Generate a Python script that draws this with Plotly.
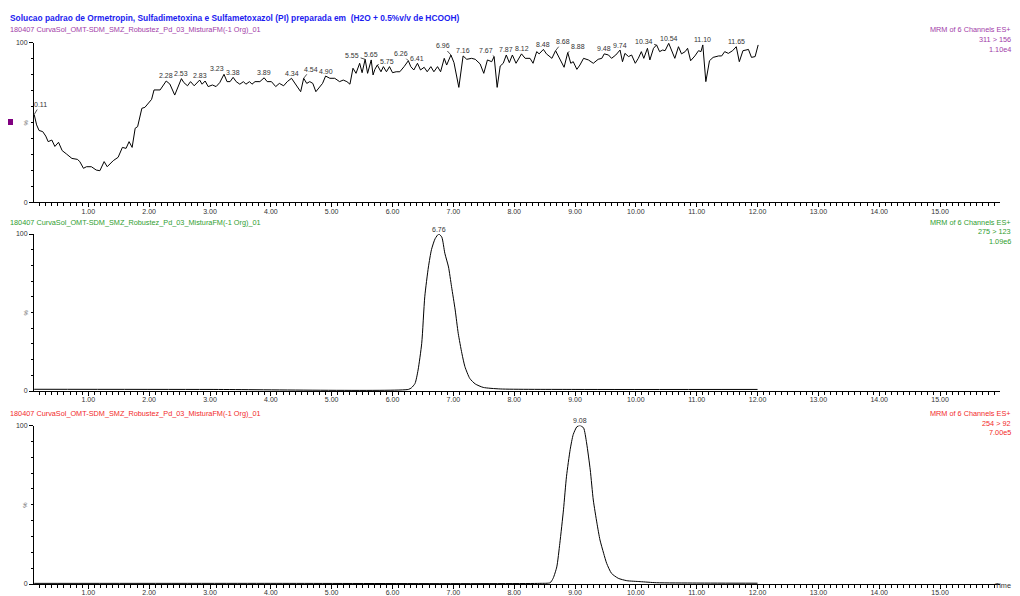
import plotly.graph_objects as go

# ---------------- data ----------------
title_text = "Solucao padrao de Ormetropin, Sulfadimetoxina e Sulfametoxazol (PI) preparada em  (H2O + 0.5%v/v de HCOOH)"
sample_name = "180407 CurvaSol_OMT-SDM_SMZ_Robustez_Pd_03_MisturaFM(-1 Org)_01"
scan_desc = "MRM of 6 Channels ES+"
channels = ["311 > 156", "275 > 123", "254 > 92"]
intensities = ["1.10e4", "1.09e6", "7.00e5"]

# Channel 1 : 311 > 156 (noisy trace, % of max)
t1 = [0.11, 0.15, 0.19, 0.25, 0.30, 0.34, 0.40, 0.45, 0.51, 0.57, 0.64, 0.73, 0.82, 0.86, 0.92,
      0.97, 1.05, 1.13, 1.19, 1.26, 1.31, 1.41, 1.49, 1.56, 1.62, 1.67, 1.72, 1.77, 1.81, 1.88,
      1.93, 1.99, 2.04, 2.08, 2.18, 2.28, 2.34, 2.42, 2.48, 2.53, 2.57, 2.63, 2.68, 2.74, 2.83,
      2.87, 2.92, 2.97, 3.04, 3.10, 3.16, 3.23, 3.28, 3.33, 3.38, 3.43, 3.49, 3.55, 3.59, 3.65,
      3.69, 3.74, 3.82, 3.89, 3.94, 4.01, 4.08, 4.14, 4.21, 4.27, 4.34, 4.41, 4.49, 4.54, 4.59,
      4.64, 4.69, 4.74, 4.80, 4.85, 4.90, 4.97, 5.05, 5.13, 5.19, 5.25, 5.30, 5.35, 5.40, 5.46,
      5.50, 5.55, 5.59, 5.65, 5.68, 5.71, 5.75, 5.81, 5.85, 5.90, 5.95, 6.00, 6.06, 6.12, 6.19,
      6.26, 6.30, 6.35, 6.41, 6.46, 6.52, 6.57, 6.63, 6.68, 6.74, 6.79, 6.85, 6.89, 6.96, 7.01,
      7.09, 7.16, 7.22, 7.30, 7.36, 7.44, 7.50, 7.56, 7.63, 7.67, 7.72, 7.77, 7.82, 7.87, 7.92,
      7.97, 8.03, 8.12, 8.18, 8.26, 8.31, 8.37, 8.41, 8.48, 8.53, 8.62, 8.68, 8.75, 8.82, 8.88,
      8.93, 8.97, 9.03, 9.08, 9.14, 9.22, 9.30, 9.38, 9.44, 9.48, 9.55, 9.60, 9.67, 9.74, 9.78,
      9.82, 9.88, 9.93, 9.99, 10.04, 10.09, 10.13, 10.19, 10.23, 10.29, 10.34, 10.39, 10.44, 10.48, 10.54,
      10.59, 10.64, 10.70, 10.75, 10.81, 10.85, 10.90, 10.97, 11.03, 11.07, 11.10, 11.15, 11.21, 11.27, 11.36,
      11.41, 11.46, 11.52, 11.59, 11.65, 11.70, 11.76, 11.81, 11.85, 11.90, 11.96, 12.01]
v1 = [55.0, 48.5, 45.0, 44.3, 41.5, 38.0, 39.0, 35.0, 37.6, 32.4, 30.3, 27.5, 26.9, 25.5, 21.3,
      22.3, 22.3, 20.2, 19.8, 25.5, 22.3, 26.1, 28.2, 34.4, 33.8, 38.0, 34.4, 46.4, 47.4, 58.9,
      59.5, 62.4, 64.5, 70.4, 70.4, 76.0, 74.1, 67.2, 73.5, 77.5, 75.0, 73.0, 75.6, 73.0, 76.6,
      74.0, 76.0, 72.5, 73.5, 72.5, 75.0, 80.2, 75.6, 75.6, 78.3, 75.6, 74.0, 75.6, 74.0, 75.6,
      74.0, 75.6, 75.6, 78.0, 75.6, 75.6, 72.5, 74.5, 73.0, 75.6, 77.7, 74.0, 69.3, 77.7, 74.5,
      75.6, 74.5, 69.3, 72.0, 74.5, 79.1, 77.7, 77.7, 75.6, 76.6, 75.6, 74.0, 84.0, 80.8, 87.1,
      81.2, 89.6, 80.8, 89.2, 79.8, 83.3, 86.0, 81.8, 85.0, 81.8, 85.0, 81.2, 81.8, 81.8, 85.0,
      88.7, 85.0, 82.9, 87.1, 82.9, 84.6, 81.8, 85.0, 81.8, 85.0, 81.8, 90.2, 86.0, 92.3, 87.5,
      72.0, 91.7, 89.6, 90.2, 89.6, 86.7, 80.8, 89.2, 88.1, 91.3, 72.0, 85.4, 87.1, 92.3, 87.5,
      92.3, 87.1, 93.0, 90.2, 90.2, 87.1, 94.4, 93.0, 95.8, 93.0, 90.2, 95.0, 90.2, 84.6, 93.8,
      87.1, 88.1, 83.3, 86.0, 90.2, 89.2, 87.1, 89.6, 90.2, 93.0, 92.3, 90.2, 92.3, 95.4, 88.1,
      93.3, 91.3, 92.3, 87.1, 90.2, 94.4, 90.2, 96.5, 89.2, 96.5, 98.6, 94.4, 95.4, 95.0, 99.6,
      95.4, 90.2, 97.5, 93.0, 94.4, 96.5, 88.7, 91.7, 95.0, 94.4, 98.6, 75.6, 88.7, 90.8, 91.7,
      91.7, 94.4, 93.3, 95.0, 97.5, 88.1, 95.0, 95.4, 95.8, 90.8, 91.3, 98.6]
peaks1 = ["0.11", "2.28", "2.53", "2.83", "3.23", "3.38", "3.89", "4.34", "4.54", "4.90",
          "5.55", "5.65", "5.75", "6.26", "6.41", "6.96", "7.16", "7.67", "7.87", "8.12",
          "8.48", "8.68", "8.88", "9.48", "9.74", "10.34", "10.54", "11.10", "11.65"]

# Channel 2 : 275 > 123
t2 = [0.11, 3.00, 6.26, 6.31, 6.37, 6.42, 6.48, 6.53, 6.59, 6.64, 6.70, 6.76, 6.81, 6.86,
      6.92, 6.97, 7.03, 7.08, 7.14, 7.19, 7.27, 7.36, 7.49, 7.77, 9.00, 12.00]
v2 = [1.1, 1.0, 1.0, 2.0, 4.8, 13.4, 30.4, 60.0, 79.0, 90.0, 97.0, 100.0, 98.0, 87.7,
      79.0, 66.5, 51.6, 36.7, 24.0, 15.5, 8.0, 4.5, 2.3, 1.3, 1.0, 1.0]
peaks2 = ["6.76"]

# Channel 3 : 254 > 92
t3 = [0.11, 4.00, 8.42, 8.59, 8.64, 8.70, 8.75, 8.81, 8.86, 8.92, 8.97, 9.03, 9.08, 9.14,
      9.19, 9.25, 9.30, 9.36, 9.41, 9.47, 9.52, 9.60, 9.71, 9.85, 10.07, 10.34, 11.00, 12.00]
v3 = [0.4, 0.4, 0.4, 0.8, 3.6, 10.8, 25.7, 46.8, 68.0, 84.8, 94.3, 99.2, 100.0, 98.5,
      89.0, 72.0, 53.0, 38.4, 27.8, 19.4, 13.0, 6.7, 3.6, 2.1, 1.5, 0.8, 0.6, 0.5]
peaks3 = ["9.08"]

# ---------------- style / layout ----------------
W, H = 1012, 588   # figure fills the 1020x596 window after the 8px page margin
OFF = 8            # page body margin: figure origin sits at (8, 8) on screen
FONT = "Liberation Sans, Arial, sans-serif"
header_colors = ["#a23ca8", "#2f9e2f", "#f22a2a"]
title_color = "#1c1cf0"
label_color = "#333333"

# plot geometry in screen pixels
x_left, x_right = 34, 1000
panel_px = [(42.7, 202.3), (234.0, 391.0), (425.5, 584.0)]   # (top=100%, bottom=0%)
x_range = [0.107, 15.985]
right_edge = 1013

def px(x):  # screen pixel -> paper x
    return (x - OFF) / W

def py(y):  # screen pixel -> paper y
    return 1 - (y - OFF) / H

label_offsets = {"0.11": (6, -10, True), "3.23": (-7, -6, False), "4.54": (7, -9, True),
                 "5.55": (-13, -4, True), "5.75": (10, -4, True), "6.26": (-7, -7, True),
                 "6.96": (-8, -9, True), "7.67": (-8, -6, True), "8.68": (7, -9, True),
                 "8.88": (10, -6, True), "10.34": (-13, -3, True)}

fig = go.Figure()
series = [(t1, v1, peaks1), (t2, v2, peaks2), (t3, v3, peaks3)]
annotations = []
for i, (t, v, pk) in enumerate(series):
    sfx = "" if i == 0 else str(i + 1)
    fig.add_trace(go.Scatter(x=t, y=v, mode="lines", xaxis="x" + sfx, yaxis="y" + sfx,
                             line=dict(color="black", width=1,
                                       shape="linear" if i == 0 else "spline", smoothing=0.6),
                             hoverinfo="skip", showlegend=False))
    top, bot = panel_px[i]
    common_ax = dict(showline=True, linecolor="black", linewidth=1, showgrid=False, zeroline=False,
                     automargin=False)
    fig.layout["xaxis" + sfx] = dict(
        common_ax, domain=[px(x_left), px(x_right)], range=x_range, anchor="y" + sfx,
        tickmode="linear", tick0=0, dtick=1, tickformat=".2f", ticks="outside", ticklen=4,
        ticklabelstandoff=-2,
        tickwidth=1, tickcolor="black", tickfont=dict(family=FONT, size=7, color=label_color),
        minor=dict(ticks="outside", ticklen=2.5, dtick=0.1, tick0=0, tickcolor="black", tickwidth=1, showgrid=False))
    fig.layout["yaxis" + sfx] = dict(
        common_ax, domain=[py(bot), py(top)], range=[0, 100], anchor="x" + sfx,
        tickmode="array", tickvals=[0, 100], ticktext=["0", "100"], ticks="outside", ticklen=4,
        tickwidth=1, tickcolor="black", tickfont=dict(family=FONT, size=7, color=label_color),
        minor=dict(ticks="outside", ticklen=2, dtick=10, tick0=0, tickcolor="black", tickwidth=1, showgrid=False))
    for lab in pk:
        tv = float(lab)
        yv = v[t.index(tv)]
        base = dict(x=tv, y=yv, xref="x" + sfx, yref="y" + sfx, text=lab,
                    font=dict(family=FONT, size=7, color=label_color))
        if lab in label_offsets and i == 0:
            dx, dy, lead = label_offsets[lab]
            if lead:
                annotations.append(dict(base, showarrow=True, arrowhead=0, arrowwidth=0.8,
                                        arrowcolor="#222222", ax=dx, ay=dy, standoff=0))
            else:
                annotations.append(dict(base, showarrow=False, xanchor="center", yanchor="middle",
                                        xshift=dx, yshift=-dy))
        else:
            annotations.append(dict(base, showarrow=False, xanchor="center", yanchor="middle",
                                    yshift=5))
    hy = top - 13 if i == 0 else top - 12
    annotations.append(dict(x=px(8), y=py(hy), xref="paper", yref="paper", text=sample_name,
                            showarrow=False, xanchor="left", yanchor="middle",
                            font=dict(family=FONT, size=7.3, color=header_colors[i])))
    for k, txt in enumerate([scan_desc, channels[i], intensities[i]]):
        annotations.append(dict(x=px(right_edge), y=py(hy + 9.7 * k), xref="paper", yref="paper", text=txt,
                                showarrow=False, xanchor="right", yanchor="middle",
                                font=dict(family=FONT, size=7.3, color=header_colors[i])))
    annotations.append(dict(x=px(25), y=py((top + bot) / 2), xref="paper", yref="paper", text="%",
                            showarrow=False, textangle=-90, xanchor="center", yanchor="middle",
                            font=dict(family=FONT, size=6, color="#555555")))

annotations.append(dict(x=px(8), y=py(18), xref="paper", yref="paper", text="<b>" + title_text + "</b>",
                        showarrow=False, xanchor="left", yanchor="middle",
                        font=dict(family=FONT, size=8.4, color=title_color)))
annotations.append(dict(x=px(right_edge), y=py(585), xref="paper", yref="paper", text="Time",
                        showarrow=False, xanchor="right", yanchor="middle",
                        font=dict(family=FONT, size=7.3, color=label_color)))

fig.update_layout(
    width=W, height=H, margin=dict(l=0, r=0, t=0, b=0),
    paper_bgcolor="white", plot_bgcolor="white", template="none",
    annotations=annotations,
    shapes=[dict(type="rect", xref="paper", yref="paper", x0=px(7), x1=px(13),
                 y0=py(125), y1=py(119), fillcolor="#800080", line=dict(width=0))],
)

fig.write_html("out.html")
